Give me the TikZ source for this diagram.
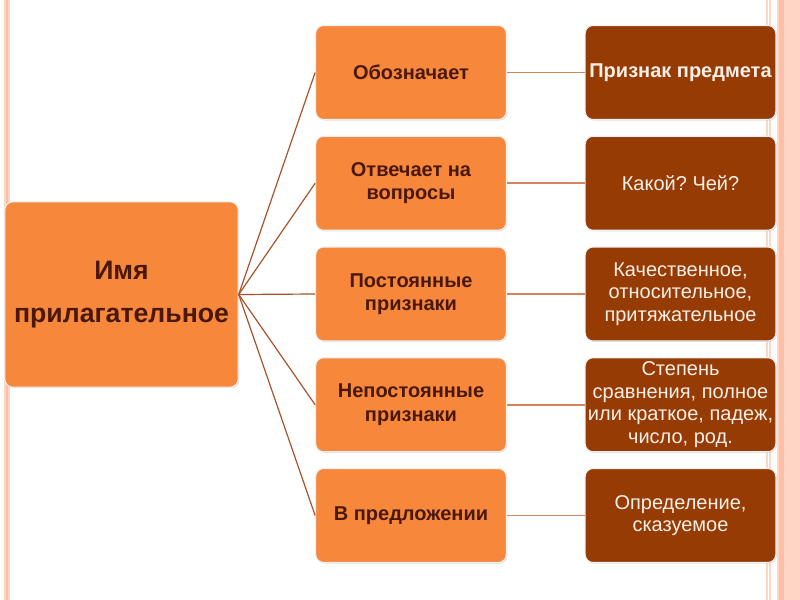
\documentclass[tikz,border=0pt]{standalone}
\usepackage{fontspec}
\setmainfont{Liberation Sans}
\frenchspacing
\usetikzlibrary{shadows}
\definecolor{orng}{HTML}{F7883B}
\definecolor{brwn}{HTML}{963B03}
\definecolor{darktxt}{HTML}{4A1808}
\definecolor{lighttxt}{HTML}{FBEFE8}
\definecolor{lineL}{HTML}{A8532A}
\definecolor{lineR}{HTML}{D4835C}
\definecolor{frameA}{HTML}{FFD5C6}
\definecolor{frameB}{HTML}{FFBEA6}
\tikzset{
  x=0.75pt, y=-0.75pt,
  boxbase/.style={rounded corners=6pt, draw=white!88!gray, line width=0.8pt,
    drop shadow={opacity=0.25, shadow xshift=0.8pt, shadow yshift=-0.8pt},
    align=center, inner sep=0pt},
  midbox/.style={boxbase, fill=orng, minimum width=143pt, minimum height=70.5pt,
    text=darktxt, font=\bfseries\fontsize{15}{17.5}\selectfont},
  rightbox/.style={boxbase, fill=brwn, minimum width=143pt, minimum height=70.5pt,
    text=lighttxt, font=\fontsize{15}{17}\selectfont},
  mainbox/.style={boxbase, fill=orng, minimum width=175pt, minimum height=139pt,
    text=darktxt, font=\bfseries\fontsize{20}{32}\selectfont},
  linkL/.style={draw=lineL, line width=0.9pt},
  linkR/.style={draw=lineR, line width=1.2pt},
}
\begin{document}
\begin{tikzpicture}
\useasboundingbox (0,0) rectangle (800,600);
\fill[white] (0,0) rectangle (800,600);
% frame
\fill[frameA] (4,0) rectangle (9.5,600);
\draw[frameB, line width=1.2pt] (6.7,0) -- (6.7,600);
\draw[frameA, line width=0.8pt] (767,0) -- (767,600);
\draw[frameA, line width=0.8pt] (770,0) -- (770,600);
\fill[frameA] (777,0) rectangle (800,600);
\fill[frameB] (779,0) rectangle (784,600);

\node[mainbox] (main) at (121.5,294.5) {Имя\\прилагательное};

\node[midbox] (m1) at (411,72.5) {Обозначает};
\node[midbox] (m2) at (411,183.25) {Отвечает на\\вопросы};
\node[midbox] (m3) at (411,294) {Постоянные\\признаки};
\node[midbox] (m4) at (411,404.75) {Непостоянные\\признаки};
\node[midbox] (m5) at (411,515.5) {В предложении};

\node[rightbox, font=\bfseries\fontsize{15}{17}\selectfont] (r1) at (680.5,72.5) {Признак предмета};
\node[rightbox] (r2) at (680.5,183.25) {Какой? Чей?};
\node[rightbox] (r3) at (680.5,294) {Качественное,\\относительное,\\притяжательное};
\node[rightbox] (r4) at (680.5,404.75) {Степень\\сравнения, полное\\или краткое, падеж,\\число, род.};
\node[rightbox] (r5) at (680.5,515.5) {Определение,\\сказуемое};

\foreach \i in {1,...,5}{
  \draw[linkL] (main.east) -- (m\i.west);
  \draw[linkR] (m\i.east) -- (r\i.west);
}
\end{tikzpicture}
\end{document}
